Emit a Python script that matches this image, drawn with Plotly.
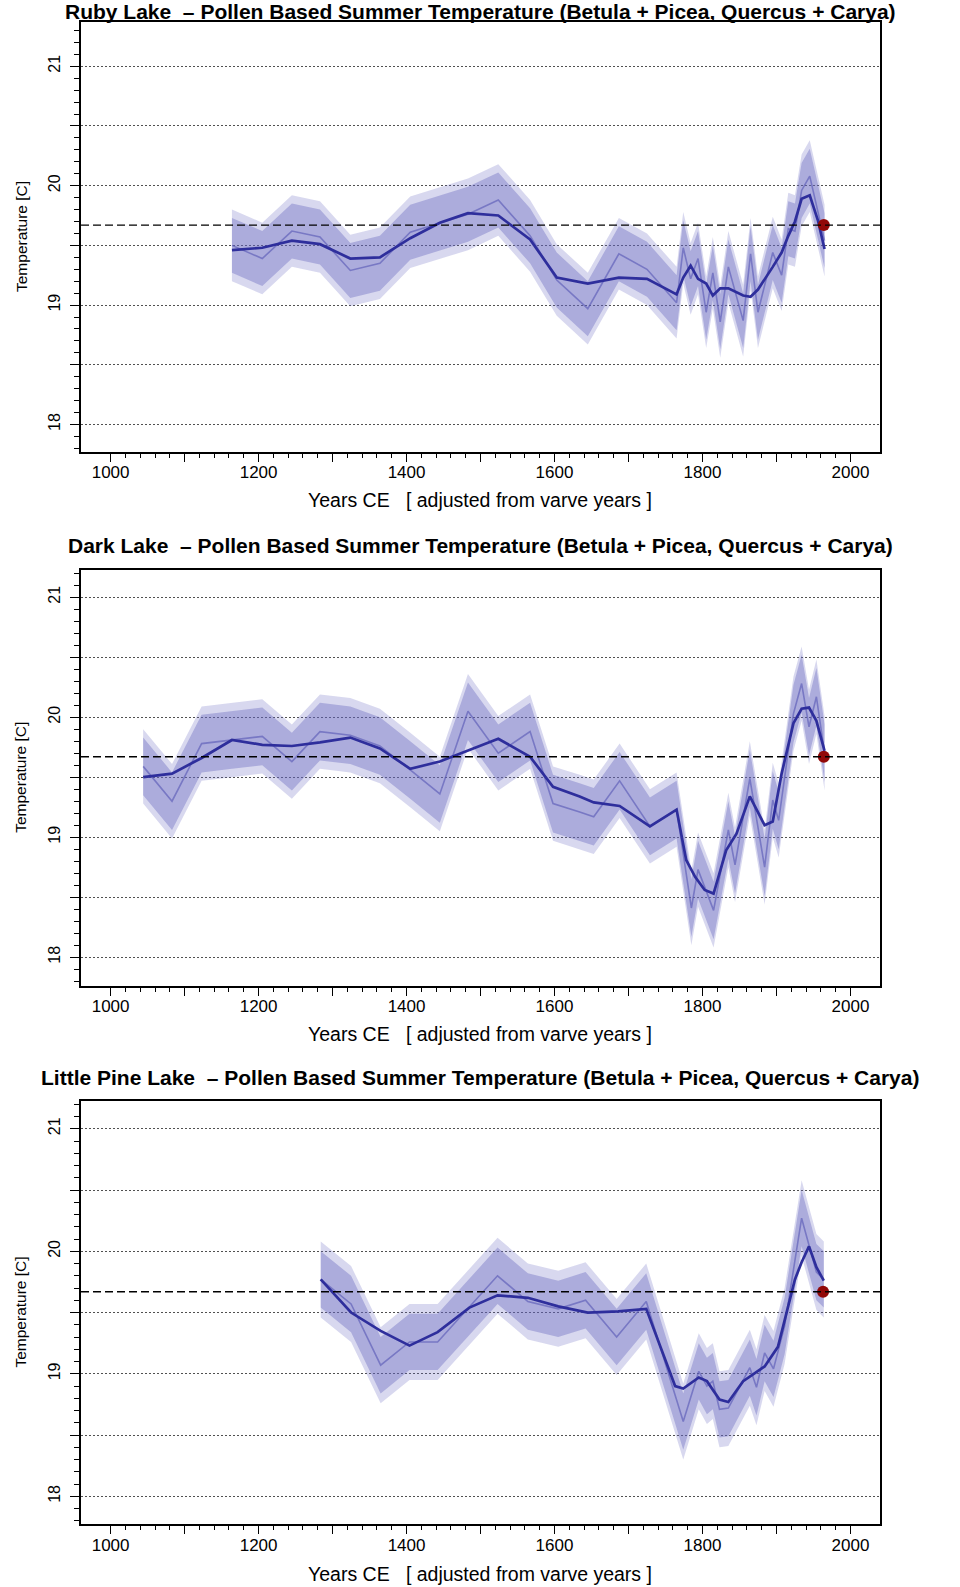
import plotly.graph_objects as go

# ---------------- data ----------------
titles = [
    "Ruby Lake\u00a0\u00a0– Pollen Based Summer Temperature (Betula + Picea, Quercus + Carya)",
    "Dark Lake\u00a0\u00a0– Pollen Based Summer Temperature (Betula + Picea, Quercus + Carya)",
    "Little Pine Lake\u00a0\u00a0– Pollen Based Summer Temperature (Betula + Picea, Quercus + Carya)",
]
x_title = "Years CE\u00a0\u00a0\u00a0[ adjusted from varve years ]"
y_title = "Temperature [C]"

x_tick_vals = [1000, 1100, 1200, 1300, 1400, 1500, 1600, 1700, 1800, 1900, 2000]
x_tick_text = ["1000", "", "1200", "", "1400", "", "1600", "", "1800", "", "2000"]
y_tick_vals = [18, 18.5, 19, 19.5, 20, 20.5, 21]
y_tick_text = ["18", "", "19", "", "20", "", "21"]

# Ruby Lake
ruby_years = [1164, 1205, 1245, 1283, 1324, 1364, 1405, 1445, 1483, 1524, 1567, 1603, 1645, 1687,
              1725, 1765, 1774, 1784, 1794, 1805, 1814, 1824, 1835, 1855, 1865, 1875, 1895, 1907,
              1916, 1925, 1934, 1945, 1956, 1965]
ruby_raw = [19.50, 19.39, 19.62, 19.57, 19.29, 19.35, 19.61, 19.69, 19.76, 19.88, 19.58, 19.21, 18.97,
            19.43, 19.30, 19.02, 19.48, 19.22, 19.39, 18.94, 19.27, 18.86, 19.32, 18.87, 19.43, 18.94,
            19.44, 19.25, 19.64, 19.62, 19.96, 20.08, 19.79, 19.54]
ruby_smooth = [19.46, 19.48, 19.54, 19.51, 19.39, 19.40, 19.56, 19.69, 19.77, 19.75, 19.55, 19.23,
               19.18, 19.23, 19.22, 19.09, 19.23, 19.33, 19.22, 19.18, 19.08, 19.14, 19.14, 19.08,
               19.07, 19.13, 19.32, 19.44, 19.58, 19.70, 19.89, 19.92, 19.71, 19.47]

# Dark Lake
dark_raw_years = [1044, 1083, 1123, 1164, 1205, 1245, 1283, 1324, 1364, 1405, 1445, 1483, 1524, 1567,
                  1598, 1634, 1653, 1688, 1729, 1765, 1785, 1794, 1815, 1835, 1844, 1864, 1884, 1895,
                  1903, 1923, 1934, 1944, 1954, 1965]
dark_raw = [19.59, 19.30, 19.78, 19.81, 19.84, 19.63, 19.88, 19.85, 19.76, 19.56, 19.36, 20.05, 19.70,
            19.88, 19.28, 19.21, 19.17, 19.47, 19.09, 19.23, 18.41, 18.73, 18.39, 19.06, 18.77, 19.49,
            18.75, 19.31, 19.14, 20.03, 20.28, 19.92, 20.17, 19.70]
dark_smooth_years = [1044, 1083, 1123, 1164, 1205, 1245, 1283, 1324, 1364, 1405, 1445, 1483, 1524,
                     1567, 1598, 1634, 1653, 1688, 1729, 1765, 1778, 1790, 1803, 1815, 1832, 1846,
                     1864, 1884, 1895, 1907, 1923, 1934, 1944, 1954, 1965]
dark_smooth = [19.50, 19.53, 19.66, 19.81, 19.77, 19.76, 19.79, 19.83, 19.74, 19.57, 19.63, 19.72,
               19.82, 19.67, 19.42, 19.34, 19.29, 19.26, 19.09, 19.23, 18.81, 18.67, 18.56, 18.53,
               18.89, 19.03, 19.34, 19.10, 19.13, 19.53, 19.95, 20.07, 20.08, 19.97, 19.72]

# Little Pine Lake
pine_raw_years = [1284, 1325, 1365, 1404, 1442, 1485, 1523, 1564, 1605, 1642, 1684, 1724, 1774, 1795,
                  1806, 1814, 1823, 1835, 1864, 1873, 1884, 1896, 1911, 1934, 1954, 1964]
pine_raw = [19.77, 19.57, 19.07, 19.26, 19.26, 19.55, 19.80, 19.59, 19.53, 19.60, 19.30, 19.59, 18.61,
            19.02, 18.90, 18.94, 18.71, 18.72, 19.05, 18.89, 19.17, 19.04, 19.39, 20.27, 19.83, 19.77]
pine_smooth_years = [1284, 1325, 1365, 1404, 1442, 1485, 1523, 1564, 1605, 1645, 1686, 1724, 1763,
                     1774, 1795, 1806, 1823, 1835, 1855, 1873, 1884, 1902, 1925, 1934, 1944, 1954, 1964]
pine_smooth = [19.77, 19.50, 19.35, 19.23, 19.34, 19.54, 19.64, 19.62, 19.55, 19.50, 19.51, 19.53,
               18.90, 18.88, 18.97, 18.94, 18.79, 18.77, 18.94, 19.01, 19.06, 19.22, 19.77, 19.91,
               20.04, 19.87, 19.76]

# uncertainty half-widths (inner, outer) per lake
band_inner = [0.23, 0.24, 0.23]
band_outer = [0.30, 0.31, 0.31]

# modern observed temperature (dashed line + red dot)
modern_temp = [19.67, 19.67, 19.67]
modern_year = [1964, 1964, 1963]

# ---------------- styling / layout ----------------
FONT = "Liberation Sans, Arial, Helvetica, sans-serif"
x_range = [960, 2040]
y_ranges = [[17.77, 21.37], [17.76, 21.23], [17.77, 21.23]]
y_domains = [[0.7152, 0.9861], [0.3787, 0.6411], [0.0394, 0.3065]]
x_domain = [0.0844, 0.9167]
title_y_px = [12, 545, 1077]
xlab_y_px = [500, 1034, 1574]
H = 1587

OUTER = "rgba(100,100,190,0.25)"
INNER = "rgba(100,100,190,0.38)"
RAW = "rgba(85,85,180,0.6)"
SMOOTH = "rgb(46,46,156)"
DOT = "rgb(145,8,8)"

panels = [
    (ruby_years, ruby_raw, ruby_years, ruby_smooth),
    (dark_raw_years, dark_raw, dark_smooth_years, dark_smooth),
    (pine_raw_years, pine_raw, pine_smooth_years, pine_smooth),
]

fig = go.Figure()
annotations = []
shapes = []
layout = {}

for i, (ry, rv, sy, sv) in enumerate(panels):
    n = "" if i == 0 else str(i + 1)
    xa, ya = "x" + n, "y" + n
    for w, col in ((band_outer[i], OUTER), (band_inner[i], INNER)):
        upper = [v + w for v in rv]
        lower = [v - w for v in rv]
        fig.add_trace(go.Scatter(
            x=list(ry) + list(ry[::-1]), y=upper + lower[::-1],
            fill="toself", fillcolor=col, line=dict(width=0), mode="lines",
            hoverinfo="skip", showlegend=False, xaxis=xa, yaxis=ya))
    fig.add_trace(go.Scatter(x=ry, y=rv, mode="lines", line=dict(color=RAW, width=1.6),
                             showlegend=False, xaxis=xa, yaxis=ya))
    fig.add_trace(go.Scatter(x=sy, y=sv, mode="lines", line=dict(color=SMOOTH, width=2.7),
                             showlegend=False, xaxis=xa, yaxis=ya))
    fig.add_trace(go.Scatter(x=[modern_year[i]], y=[modern_temp[i]], mode="markers",
                             marker=dict(color=DOT, size=12, line=dict(width=0)),
                             showlegend=False, xaxis=xa, yaxis=ya))
    shapes.append(dict(type="line", xref=xa + " domain", yref=ya, x0=0, x1=1,
                       y0=modern_temp[i], y1=modern_temp[i],
                       line=dict(color="black", width=1.4, dash="8px,4px"), layer="above"))

    layout["xaxis" + n] = dict(
        domain=x_domain, range=x_range, anchor=ya, showgrid=False, zeroline=False,
        showline=True, mirror=True, linecolor="black", linewidth=1.6,
        tickmode="array", tickvals=x_tick_vals, ticktext=x_tick_text,
        ticks="outside", ticklen=8, tickwidth=1.2, tickcolor="black", ticklabelstandoff=-4,
        tickfont=dict(family=FONT, size=17, color="black"),
        minor=dict(tickvals=[v for v in range(1000, 2001, 20) if v % 100],
                   ticks="outside", ticklen=4, tickwidth=1.2, tickcolor="black", showgrid=False),
    )
    layout["yaxis" + n] = dict(
        domain=y_domains[i], range=y_ranges[i], anchor=xa, zeroline=False,
        showline=True, mirror=True, linecolor="black", linewidth=1.6,
        tickmode="array", tickvals=y_tick_vals, ticktext=y_tick_text, tickangle=-90,
        ticks="outside", ticklen=9, tickwidth=1.2, tickcolor="black", ticklabelstandoff=4,
        tickfont=dict(family=FONT, size=16, color="black"),
        showgrid=True, gridcolor="rgb(80,80,80)", gridwidth=1, griddash="1.5px,2.5px",
        minor=dict(dtick=0.1, tick0=18, ticks="outside", ticklen=5, tickwidth=1.2,
                   tickcolor="black", showgrid=False),
    )

    annotations.append(dict(text="<b>" + titles[i] + "</b>", xref="paper", yref="paper",
                            x=0.5, y=1 - title_y_px[i] / H, xanchor="center", yanchor="middle",
                            showarrow=False, font=dict(family=FONT, size=21, color="black")))
    annotations.append(dict(text=x_title, xref="paper", yref="paper",
                            x=0.5, y=1 - xlab_y_px[i] / H, xanchor="center", yanchor="middle",
                            showarrow=False, font=dict(family=FONT, size=19.5, color="black")))
    annotations.append(dict(text=y_title, xref="paper", yref="paper", textangle=-90,
                            x=21 / 960, y=sum(y_domains[i]) / 2, xanchor="center", yanchor="middle",
                            showarrow=False, font=dict(family=FONT, size=15.5, color="black")))

fig.update_layout(
    width=960, height=1587, margin=dict(l=0, r=0, t=0, b=0),
    paper_bgcolor="white", plot_bgcolor="white",
    annotations=annotations, shapes=shapes, showlegend=False, **layout,
)

fig.write_html("out.html", config={"displayModeBar": False},
               post_script="document.body.style.margin='0';document.body.style.overflow='hidden';")
